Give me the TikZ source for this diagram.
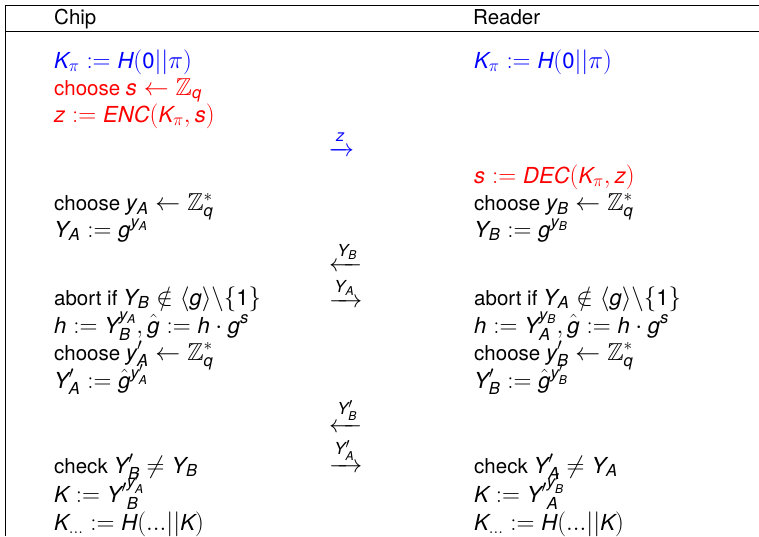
\documentclass[tikz,border=0pt]{standalone}
\usepackage{amsmath,amssymb}
\usepackage{fontspec}
\setmainfont{TeX Gyre Heros}
\newfontfamily\herosfam{TeX Gyre Heros}[NFSSFamily=herosm, Scale=0.9]
\DeclareSymbolFont{sfit}{TU}{herosm}{m}{it}
\DeclareSymbolFont{sfup}{TU}{herosm}{m}{n}
\newcommand\sfmlet[1]{\DeclareMathSymbol{#1}{\mathalpha}{sfit}{`#1}}
\sfmlet A\sfmlet B\sfmlet C\sfmlet D\sfmlet E\sfmlet H\sfmlet K\sfmlet N\sfmlet Y
\sfmlet g\sfmlet h\sfmlet q\sfmlet s\sfmlet y\sfmlet z
\AtBeginDocument{%
  \Umathcode`0="7 \symsfup `0
  \Umathcode`1="7 \symsfup `1
}
\DeclareMathSizes{20.5}{24.5}{18.4}{13.5}
\tikzset{
  txt/.style={anchor=base west, inner sep=0pt, font=\fontsize{20.5}{24}\selectfont},
  msg/.style={txt},
  rule/.style={line width=0.9pt, draw=black}
}
\begin{document}
\begin{tikzpicture}[x=1pt,y=-1pt]
\useasboundingbox (0,0) rectangle (759,536);
% table rules
\coordinate (tl) at (5,5);
\coordinate (tr) at (759,5);
\coordinate (ml) at (5,31);
\coordinate (mr) at (759,31);
\coordinate (bl) at (5,536);
\draw[rule] (tl) -- (tr);
\draw[rule] (ml) -- (mr);
\draw[rule] (tl) -- (bl);
% headers
\node[txt] (hchip) at (54,24) {Chip};
\node[txt] (hreader) at (473,24) {Reader};
% chip column
\node[txt, blue] (c1) at (54,68) {$K_\pi := H(0||\pi)$};
\node[txt, red] (c2) at (54,95) {choose $s \leftarrow \mathbb{Z}_q$};
\node[txt, red] (c3) at (54,122) {$z := ENC(K_\pi, s)$};
\node[txt] (c4) at (54,210.5) {choose $y_A \leftarrow \mathbb{Z}_q^*$};
\node[txt] (c5) at (54,237) {$Y_A := g^{y_A}$};
\node[txt] (c6) at (54,305) {abort if $Y_B \notin \langle g\rangle\backslash\{1\}$};
\node[txt] (c7) at (54,333) {$h := Y_B^{y_A}, \hat{g} := h\cdot g^s$};
\node[txt] (c8) at (54,360) {choose $y_A' \leftarrow \mathbb{Z}_q^*$};
\node[txt] (c9) at (54,388) {$Y_A' := \hat{g}^{y_A'}$};
\node[txt] (c10) at (54,473) {check $Y_B' \neq Y_B$};
\node[txt] (c11) at (54,502) {$K := {Y'}_B^{y_A'}$};
\node[txt] (c12) at (54,530) {$K_{...} := H(...||K)$};
% reader column
\node[txt, blue] (r1) at (474,68) {$K_\pi := H(0||\pi)$};
\node[txt, red] (r2) at (474,183) {$s := DEC(K_\pi, z)$};
\node[txt] (r3) at (474,210.5) {choose $y_B \leftarrow \mathbb{Z}_q^*$};
\node[txt] (r4) at (474,237) {$Y_B := g^{y_B}$};
\node[txt] (r5) at (474,305) {abort if $Y_A \notin \langle g\rangle\backslash\{1\}$};
\node[txt] (r6) at (474,333) {$h := Y_A^{y_B}, \hat{g} := h\cdot g^s$};
\node[txt] (r7) at (474,360) {choose $y_B' \leftarrow \mathbb{Z}_q^*$};
\node[txt] (r8) at (474,388) {$Y_B' := \hat{g}^{y_B'}$};
\node[txt] (r9) at (474,473) {check $Y_A' \neq Y_A$};
\node[txt] (r10) at (474,502) {$K := {Y'}_A^{y_B'}$};
\node[txt] (r11) at (474,530) {$K_{...} := H(...||K)$};
% messages
\node[msg, blue] (m1) at (329,156) {$\xrightarrow{z}$};
\node[msg] (m2) at (329,271) {$\xleftarrow{Y_B}$};
\node[msg] (m3) at (329,307) {$\xrightarrow{Y_A}$};
\node[msg] (m4) at (329,432) {$\xleftarrow{Y_B'}$};
\node[msg] (m5) at (329,472) {$\xrightarrow{Y_A'}$};
\end{tikzpicture}
\end{document}
